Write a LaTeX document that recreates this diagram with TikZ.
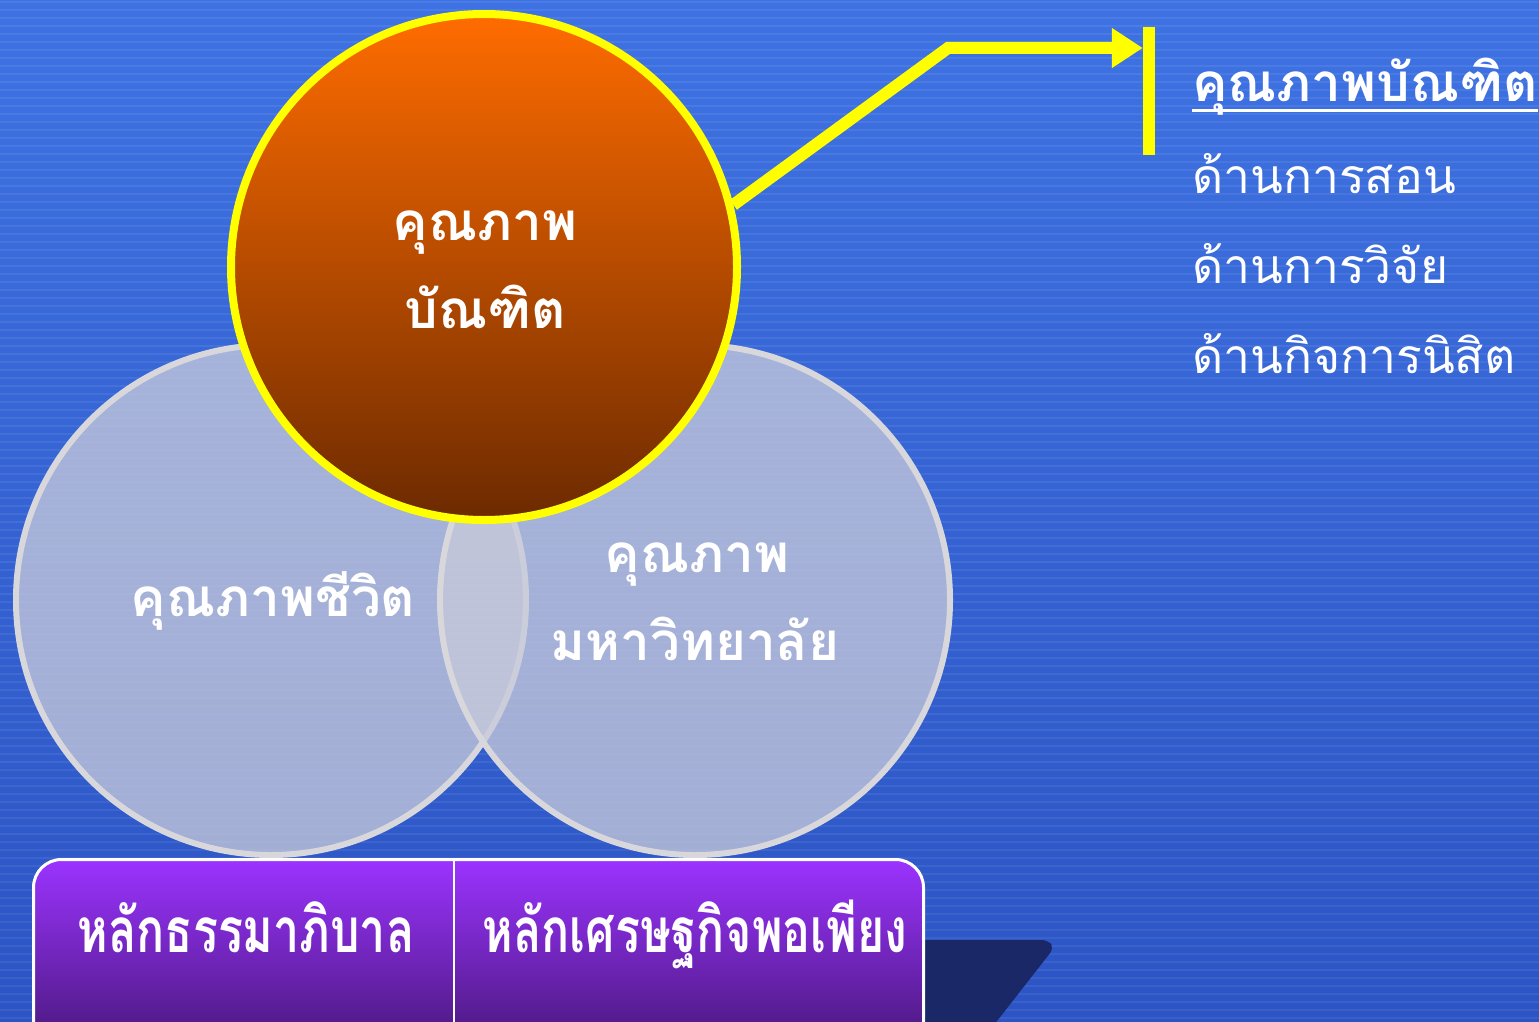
\documentclass[tikz,border=0pt]{standalone}
\usepackage{fontspec}
\newfontfamily\thai[Script=Thai]{Loma}
\newfontfamily\thaicond[Script=Thai,FakeStretch=0.75]{Loma}
\usetikzlibrary{arrows.meta}
\definecolor{bgtop}{RGB}{62,114,226}
\definecolor{bgbot}{RGB}{44,84,196}
\definecolor{circfill}{RGB}{200,202,218}
\definecolor{circline}{RGB}{216,216,220}
\definecolor{orangetop}{RGB}{255,108,0}
\definecolor{orangebot}{RGB}{108,42,0}
\definecolor{purpletop}{RGB}{155,51,255}
\definecolor{purplebot}{RGB}{72,24,122}
\definecolor{shadowc}{RGB}{26,40,104}
\definecolor{yel}{RGB}{255,255,0}
\tikzset{
  greycirc/.style={circle, minimum size=510pt, inner sep=0pt, fill=circfill, fill opacity=0.76, draw=circline, line width=6pt},
  orangecirc/.style={circle, minimum size=506pt, inner sep=0pt, top color=orangetop, bottom color=orangebot, draw=yel, line width=8pt},
  bigtxt/.style={text=white, font=\thai\bfseries\fontsize{53}{56}\selectfont, inner sep=0pt},
  listtxt/.style={text=white, font=\thai\fontsize{48}{50}\selectfont, inner sep=0pt, anchor=base west},
  boxtxt/.style={text=white, font=\thaicond\bfseries\fontsize{62}{64}\selectfont, inner sep=0pt, anchor=base},
  conn/.style={yel, line width=12pt},
}
\begin{document}
\begin{tikzpicture}[x=1pt,y=-1pt]
\useasboundingbox (0,0) rectangle (1539,1022);
\shade[top color=bgtop, bottom color=bgbot] (0,0) rectangle (1539,1022);
\foreach \yy in {2,10,...,1022} {
  \draw[white, opacity=0.07, line width=2pt] (0,\yy) -- (1539,\yy);
}
% grey circles
\node[greycirc] (left) at (271,600) {};
\node[greycirc] (right) at (695,600) {};
% orange circle
\node[orangecirc] (top) at (484,267) {};
% circle texts
\node[bigtxt, anchor=base] (t1) at (485,240) {คุณภาพ};
\node[bigtxt, anchor=base] (t2) at (485,328) {บัณฑิต};
\node[bigtxt, anchor=base] (l1) at (273,616) {คุณภาพชีวิต};
\node[bigtxt, anchor=base] (r1) at (697,572) {คุณภาพ};
\node[bigtxt, anchor=base] (r2) at (695,660) {มหาวิทยาลัย};
% shadow
\fill[shadowc, rounded corners=6pt] (900,940) -- (1048,940) -- (1054,948) -- (990,1030) -- (900,1030) -- cycle;
% bottom box
\node[draw=white, line width=3pt, rounded corners=28pt, top color=purpletop, bottom color=purplebot,
      minimum width=890pt, minimum height=190pt, inner sep=0pt, anchor=north west] (base) at (32,858) {};
\coordinate (divtop) at (454,858);
\draw[white, line width=1.5pt] (divtop) -- (divtop |- base.south);
\node[boxtxt] (b1) at (246,952) {หลักธรรมาภิบาล};
\node[boxtxt] (b2) at (695,952) {หลักเศรษฐกิจพอเพียง};
% connector
\node[fill=yel, minimum width=12pt, minimum height=128pt, inner sep=0pt] (bar) at (1149,91) {};
\coordinate (bend) at (948,48);
\draw[conn, -{Triangle[length=31pt,width=38pt]}] (top.14) -- (bend) -- (bend -| bar.west);
% right list
\node[listtxt, font=\thai\bfseries\fontsize{53}{56}\selectfont] (h) at (1192,102) {คุณภาพบัณฑิต};
\draw[white, line width=3pt] ([yshift=-9pt]h.base west) -- ([yshift=-9pt]h.base east);
\node[listtxt] (i1) at (1192,193) {ด้านการสอน};
\node[listtxt] (i2) at (1192,283) {ด้านการวิจัย};
\node[listtxt] (i3) at (1192,373) {ด้านกิจการนิสิต};
\end{tikzpicture}
\end{document}
